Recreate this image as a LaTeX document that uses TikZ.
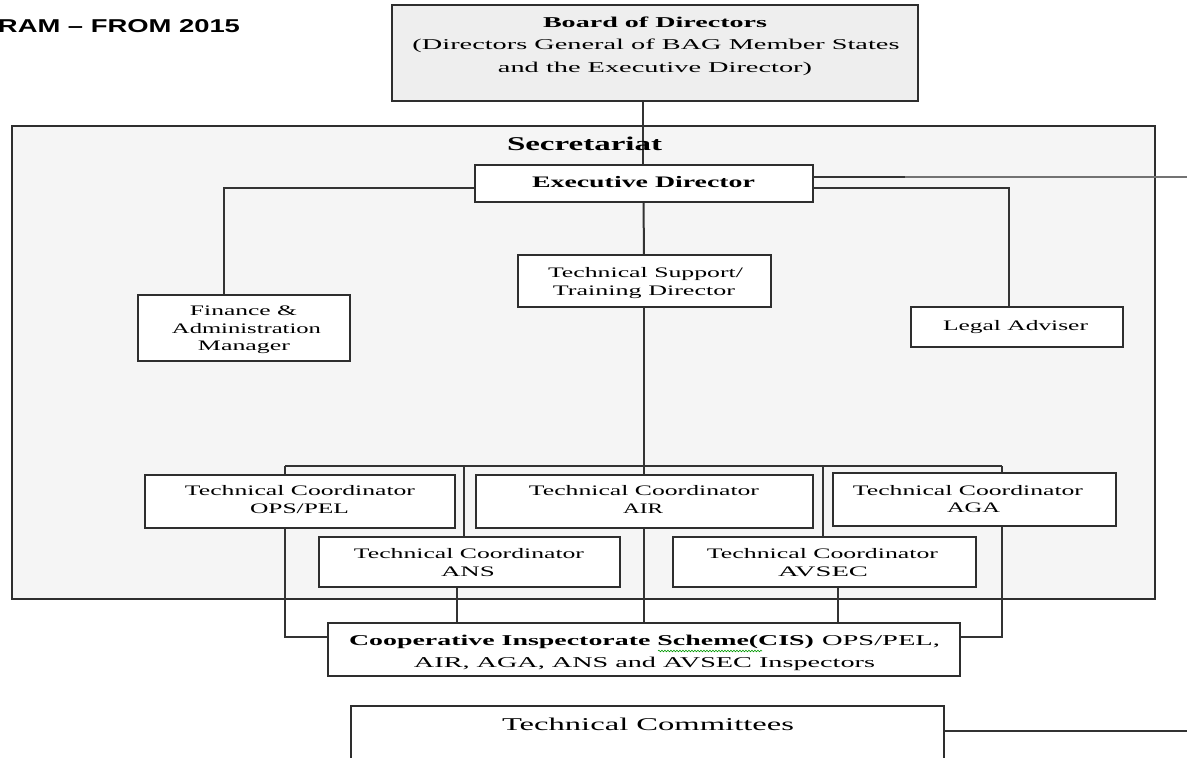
\documentclass[tikz,border=0pt]{standalone}
\usepackage{fontspec}
\setmainfont{Liberation Serif}
\newfontfamily\titlefont{Liberation Sans}
\usetikzlibrary{decorations.pathmorphing}
\pgfdeclarelayer{back}
\pgfdeclarelayer{wires}
\pgfsetlayers{back,wires,main}
\newcommand{\fw}[2]{\resizebox{#1pt}{\height}{#2}}
\newcommand{\tl}[6]{\node[txt,#4] (#1) at (#2,#3) {\fw{#5}{#6}};}
\begin{document}
\begin{tikzpicture}[x=1pt,y=-1pt,
  box/.style={draw=black!82, line width=1.8pt, fill=white, inner sep=0pt, outer sep=0pt, anchor=north west},
  wire/.style={draw=black!80, line width=2pt},
  txt/.style={inner sep=0pt, outer sep=0pt, anchor=base, text=black},
  rs/.style={font=\fontsize{15pt}{18pt}\selectfont},
  bs/.style={font=\bfseries\fontsize{15pt}{18pt}\selectfont},
  rm/.style={font=\fontsize{14.5pt}{18pt}\selectfont},
  bm/.style={font=\bfseries\fontsize{16pt}{18pt}\selectfont}]
\useasboundingbox (0,0) rectangle (1187,758);

% secretariat frame
\begin{pgfonlayer}{back}
\node[box, fill=gray!8, minimum width=1143pt, minimum height=473pt] (sec) at (12,126) {};
\end{pgfonlayer}

% title
\node[txt, font=\titlefont\bfseries\fontsize{18.6pt}{20pt}\selectfont] (title) at (119,32) {\fw{242}{RAM – FROM 2015}};

% boxes
\node[box, fill=gray!13, minimum width=526pt, minimum height=96pt] (board) at (392,5) {};
\node[box, minimum width=338pt, minimum height=37pt] (exec) at (475,165) {};
\node[box, minimum width=212pt, minimum height=66pt] (fin) at (138,295) {};
\node[box, minimum width=253pt, minimum height=52pt] (ts) at (518,255) {};
\node[box, minimum width=212pt, minimum height=40pt] (legal) at (911,307) {};
\node[box, minimum width=310pt, minimum height=53pt] (ops) at (145,475) {};
\node[box, minimum width=337pt, minimum height=53pt] (air) at (476,475) {};
\node[box, minimum width=283pt, minimum height=53pt] (aga) at (833,473) {};
\node[box, minimum width=301pt, minimum height=50pt] (ans) at (319,537) {};
\node[box, minimum width=303pt, minimum height=50pt] (avsec) at (673,537) {};
\node[box, minimum width=632pt, minimum height=53pt] (cis) at (328,623) {};
\node[box, minimum width=593pt, minimum height=62pt] (tc) at (351,706) {};

% texts
\tl{b1}{655}{27}{bs}{224}{Board of Directors}
\tl{b2}{656}{49}{rs}{487}{(Directors General of BAG Member States}
\tl{b3}{655}{72}{rs}{314}{and the Executive Director)}
\node[txt, font=\bfseries\fontsize{19.5pt}{22pt}\selectfont] (sect) at (584.5,150) {\fw{155}{Secretariat}};
\tl{ex}{643.5}{187}{bm}{223}{Executive Director}
\tl{f1}{243.5}{315}{rm}{107}{Finance \&}
\tl{f2}{246.5}{333}{rm}{149}{Administration}
\tl{f3}{244}{350}{rm}{92}{Manager}
\tl{t1}{645.5}{277}{rm}{195}{Technical Support/}
\tl{t2}{644}{295}{rm}{182}{Training Director}
\tl{lg}{1015.5}{330}{rm}{145}{Legal Adviser}
\tl{o1}{300}{495}{rm}{230}{Technical Coordinator}
\tl{o2}{299.5}{513}{rm}{99}{OPS/PEL}
\tl{a1}{644}{495}{rm}{230}{Technical Coordinator}
\tl{a2}{643}{513}{rm}{40}{AIR}
\tl{g1}{968}{495}{rm}{230}{Technical Coordinator}
\tl{g2}{973.5}{512}{rm}{53}{AGA}
\tl{n1}{469}{558}{rm}{230}{Technical Coordinator}
\tl{n2}{468}{576}{rm}{54}{ANS}
\tl{v1}{822.5}{558}{rm}{231}{Technical Coordinator}
\tl{v2}{823}{576}{rm}{90}{AVSEC}
\node[txt, anchor=base west, font=\fontsize{15pt}{18pt}\selectfont] (c1) at (349,645) {\fw{465}{\bfseries Cooperative Inspectorate Scheme(CIS)}\hspace{8pt}\fw{118}{OPS/PEL,}};
\tl{c2}{644.5}{667}{rs}{461}{AIR, AGA, ANS and AVSEC Inspectors}
\node[txt, font=\fontsize{18pt}{20pt}\selectfont] (tct) at (648,730) {\fw{292}{Technical Committees}};
\draw[green!60!black, line width=0.6pt, decorate, decoration={snake, amplitude=0.8pt, segment length=3pt}] (658,651) -- (762,651);

% coordinates
\coordinate (finTop) at (224,295);
\coordinate (legTop) at (1009,307);
\coordinate (eR1) at (905,177);
\coordinate (eR2) at (1187,177);
\coordinate (busL) at (285,466);
\coordinate (busR) at (1002,466);
\coordinate (busA) at (464,466);
\coordinate (busV) at (823,466);
\coordinate (busM) at (643.5,466);
\coordinate (tcR) at (1187,731);

% connectors
\begin{pgfonlayer}{wires}
\draw[wire] ([xshift=-1pt]board.south -| exec.north) -- ([xshift=-1pt]exec.north);
\draw[wire] ([xshift=-0.5pt]exec.south) -- ([xshift=-0.5pt]ts.north);
\draw[wire] ([xshift=-0.5pt]ts.south) -- ([xshift=-0.5pt]air.north);
\draw[wire] ([yshift=-4.5pt]exec.west) -| (finTop);
\draw[wire] ([yshift=-4.5pt]exec.east) -| (legTop);
\draw[wire] ([yshift=6.5pt]exec.east) -- (eR1);
\draw[wire, draw=black!55, line width=1.6pt] (eR1) -- (eR2);
\draw[wire] (busL) -- (busR);
\draw[wire] (busL) |- ([yshift=12.5pt]cis.west);
\draw[wire] (busR) |- ([yshift=12.5pt]cis.east);
\draw[wire] (busA) -- (busA |- ans.north);
\draw[wire] (busV) -- (busV |- avsec.north);
\draw[wire] ([xshift=-12.5pt]ans.south) -- ([xshift=-12.5pt]ans.south |- cis.north);
\draw[wire] ([xshift=13.5pt]avsec.south) -- ([xshift=13.5pt]avsec.south |- cis.north);
\draw[wire] ([xshift=-0.5pt]air.south) -- ([xshift=-0.5pt]air.south |- cis.north);
\draw[wire] ([yshift=6pt]tc.east) -- (tcR);
\end{pgfonlayer}
\end{tikzpicture}
\end{document}
